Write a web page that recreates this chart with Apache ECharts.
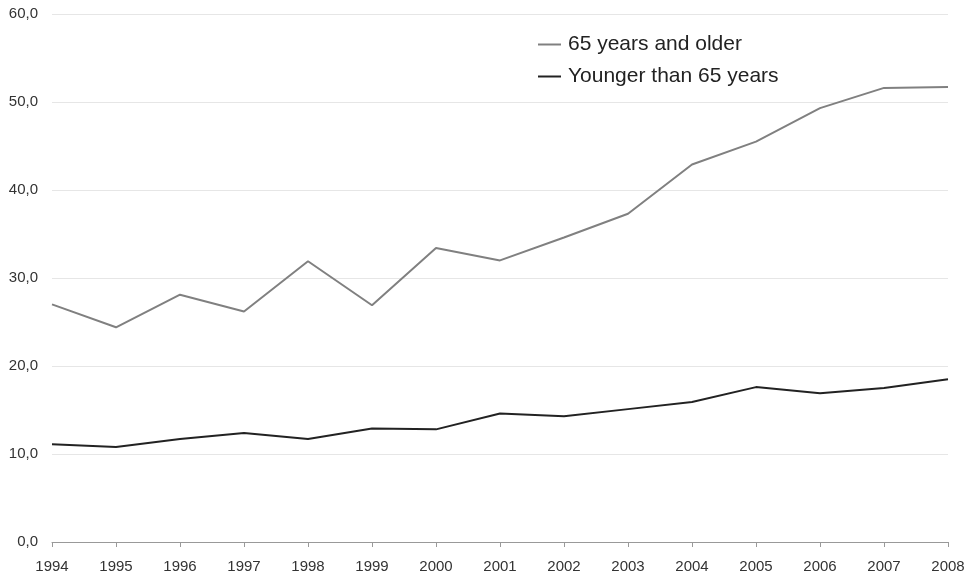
<!DOCTYPE html>
<html><head><meta charset="utf-8">
<script src="https://cdn.jsdelivr.net/npm/echarts@6/dist/echarts.min.js"></script>
<style>html,body{margin:0;padding:0;background:#fff}#c{width:973px;height:576px}</style>
</head><body><div id="c"></div>
<script>
const years = ['1994','1995','1996','1997','1998','1999','2000','2001','2002','2003','2004','2005','2006','2007','2008'];
const older = [27.0,24.4,28.1,26.2,31.9,26.9,33.4,32.0,34.6,37.3,42.9,45.5,49.3,51.6,51.7];
const younger = [11.1,10.8,11.7,12.4,11.7,12.9,12.8,14.6,14.3,15.1,15.9,17.6,16.9,17.5,18.5];
const yTicks = {min:0, max:60, interval:10};
const names = ['65 years and older','Younger than 65 years'];

const chart = echarts.init(document.getElementById('c'), null, {renderer:'canvas'});
chart.setOption({
  animation:false,
  textStyle:{fontFamily:'Liberation Sans, Arial, sans-serif'},
  grid:{left:52,right:25,top:14,bottom:34,containLabel:false},
  legend:{
    orient:'vertical', left:533, top:29, itemGap:11, itemWidth:23, itemHeight:24,
    icon:'path://M0,11 L23,11 L23,13 L0,13 Z',
    textStyle:{fontSize:21,color:'#222',padding:[0,0,0,2]},
    data:names
  },
  xAxis:{
    type:'category', data:years, boundaryGap:false,
    axisLine:{lineStyle:{color:'#999',width:1}},
    axisTick:{show:true,alignWithLabel:true,length:5,lineStyle:{color:'#999'}},
    axisLabel:{fontSize:15,color:'#333',margin:17,interval:0},
    splitLine:{show:false}
  },
  yAxis:{
    type:'value', min:yTicks.min, max:yTicks.max, interval:yTicks.interval,
    axisLine:{show:false}, axisTick:{show:false},
    axisLabel:{fontSize:15,color:'#333',margin:14,formatter:v=>v.toFixed(1).replace('.',',')},
    splitLine:{lineStyle:{color:'#e6e6e6',width:1}}
  },
  series:[
    {name:names[0],type:'line',data:older,symbol:'none',lineStyle:{color:'#808080',width:2},itemStyle:{color:'#808080'}},
    {name:names[1],type:'line',data:younger,symbol:'none',lineStyle:{color:'#222',width:2},itemStyle:{color:'#222'}}
  ]
});
</script></body></html>
